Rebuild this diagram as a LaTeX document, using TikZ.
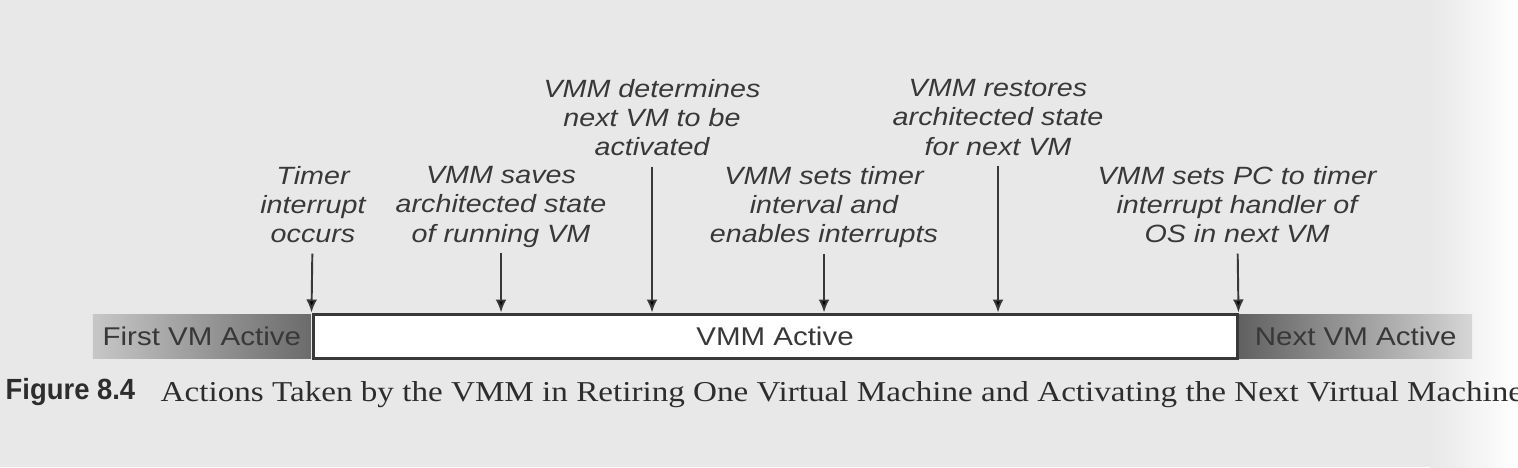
\documentclass[tikz,border=0pt]{standalone}
\usepackage{xcolor}
\usepackage{fontspec}
\setmainfont{Liberation Sans}[FakeStretch=1.15]
\newfontfamily\capfont{Liberation Serif}[FakeStretch=1.15]
\newfontfamily\fignumfont{Liberation Sans}[FakeStretch=0.94]
\usepackage{tikz}
\usetikzlibrary{backgrounds,arrows.meta}

\definecolor{paper}{gray}{0.91}
\definecolor{ink}{gray}{0.22}

\begin{document}
\begin{tikzpicture}[x=0.1mm, y=-0.1mm,
  event/.style={align=center, inner sep=0pt, outer sep=3pt, text depth=0pt, text=ink, font=\fontsize{7.1}{8.3}\selectfont\itshape},
  phase/.style={minimum height=4.4mm, inner sep=0pt, text=ink, font=\fontsize{7.3}{8}\selectfont},
  act/.style={-{Latex[length=3.7pt,width=3.1pt]}, line width=0.55pt, draw=ink}]
\useasboundingbox (0,0) rectangle (1518,467);

\node[event,anchor=north] (timer) at (313,156) {Timer\\interrupt\\occurs};
\node[event,anchor=north] (saves) at (501,156) {VMM saves\\architected state\\of running VM};
\node[event,anchor=north] (choose) at (652,69) {VMM determines\\next VM to be\\activated};
\node[event,anchor=north] (settimer) at (824,156) {VMM sets timer\\interval and\\enables interrupts};
\node[event,anchor=north] (restore) at (998,69) {VMM restores\\architected state\\for next VM};
\node[event,anchor=north] (setpc) at (1237,156) {VMM sets PC to timer\\interrupt handler of\\OS in next VM};

\node[phase,draw=ink,line width=0.85pt,fill=white,minimum width=92.4mm] (vmm) at (775,336) {VMM Active};

\begin{scope}[on background layer]
\fill[paper] (0,0) rectangle (1518,467);
\shade[left color=paper, right color=white] (1430,0) rectangle (1518,467);
\node[phase,left color=black!22,right color=black!58,minimum width=21.8mm,anchor=east] (first) at (vmm.west) {First VM Active};
\node[phase,left color=black!62,right color=black!16,minimum width=23.3mm,anchor=west] (next) at (vmm.east) {Next VM Active};
\end{scope}

\path[act] (timer) edge (vmm.north west)
           (saves) edge (saves |- vmm.north)
           (choose) edge (choose |- vmm.north)
           (settimer) edge (settimer |- vmm.north)
           (restore) edge (restore |- vmm.north)
           (setpc) edge (vmm.north east);

\node[anchor=base west,inner sep=0pt,text=ink!80!black,font=\fignumfont\fontsize{8.3}{9}\selectfont\bfseries] (fignum) at (5,399) {Figure 8.4};
\node[anchor=base west,inner sep=0pt,text=ink!80!black,font=\capfont\fontsize{8.2}{9}\selectfont] (caption) at (160,401) {Actions Taken by the VMM in Retiring One Virtual Machine and Activating the Next Virtual Machine};
\end{tikzpicture}
\end{document}
